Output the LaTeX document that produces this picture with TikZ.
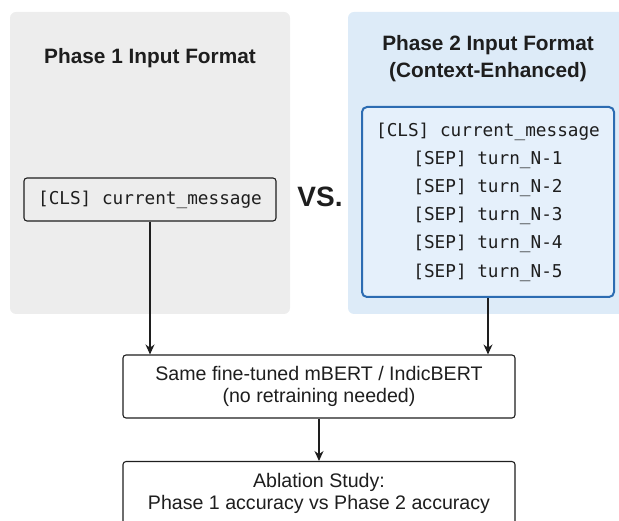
\documentclass[tikz,border=0pt]{standalone}
\usepackage{fontspec}
\setmainfont{Liberation Sans}
\setmonofont{DejaVu Sans Mono}
\usetikzlibrary{arrows.meta,positioning}
\definecolor{panelGray}{HTML}{EDEDED}
\definecolor{panelBlue}{HTML}{DDEBF8}
\definecolor{ctxFill}{HTML}{E5F0FB}
\definecolor{ctxBorder}{HTML}{2C6CB2}
\definecolor{inkDark}{HTML}{1E1E1E}
\newcommand\colorPhaseOne{panelGray}
\newcommand\colorPhaseTwo{panelBlue}
\newcommand\tokenFont{\ttfamily\fontsize{17.7}{28.2}\selectfont}
\newcommand\boxFont{\fontsize{19.6}{21.8}\selectfont}
\tikzset{
	panel/.style={rounded corners=6pt},
	title/.style={font=\bfseries\fontsize{20.8}{27}\selectfont, text=inkDark, align=center},
	tokenbox/.style={draw=inkDark, line width=1.1pt, rounded corners=3pt, font=\tokenFont, text=inkDark},
	ctxbox/.style={draw=ctxBorder, fill=ctxFill, line width=2pt, rounded corners=5pt, font=\tokenFont, text=inkDark, align=center},
	modelbox/.style={draw=inkDark, fill=white, line width=1.1pt, rounded corners=3pt, font=\boxFont, text=inkDark, align=center, minimum width=392pt},
	flow/.style={-{Stealth[length=10pt,width=9pt]}, line width=1.1pt, draw=inkDark}
}

\begin{document}
\begin{tikzpicture}[x=1pt, y=-1pt]
	\useasboundingbox (0,0) rectangle (619,521);
	\clip (0,0) rectangle (619,521);
	
	% the two input formats
	\fill[\colorPhaseOne, panel] (10,12) rectangle (290,314);
	\fill[\colorPhaseTwo, panel] (348,12) rectangle (626,314);
	
	\node[title] (titleOne) at (150,58) {Phase 1 Input Format};
	\node[title] (titleTwo) at (488,58.5) {Phase 2 Input Format\\(Context-Enhanced)};
	
	\node[tokenbox, minimum width=252pt, minimum height=43pt] (clsOne) at (150,199.5) {[CLS] current\_message};
	\node[font=\bfseries\fontsize{28}{30}\selectfont, text=inkDark] (vs) at (320,197) {VS.};
	
	\node[ctxbox, minimum width=252pt, minimum height=190pt] (ctxTwo) at (488,202)
	{[CLS] current\_message\\
	 {[SEP]} turn\_N-1\\
	 {[SEP]} turn\_N-2\\
	 {[SEP]} turn\_N-3\\
	 {[SEP]} turn\_N-4\\
	 {[SEP]} turn\_N-5};
	
	% shared model and evaluation
	\node[modelbox, minimum height=63pt] (model) at (319,386.5) {Same fine-tuned mBERT / IndicBERT\\(no retraining needed)};
	\node[modelbox, anchor=north, inner ysep=12pt] (ablation) at (319,461) {Ablation Study:\\Phase 1 accuracy vs Phase 2 accuracy\rule[-20pt]{0pt}{0pt}};
	
	\draw[flow] (clsOne.south) to (clsOne.south |- model.north);
	\draw[flow] (ctxTwo.south) to (ctxTwo.south |- model.north);
	\draw[flow] (model) to (ablation);
\end{tikzpicture}
\end{document}
